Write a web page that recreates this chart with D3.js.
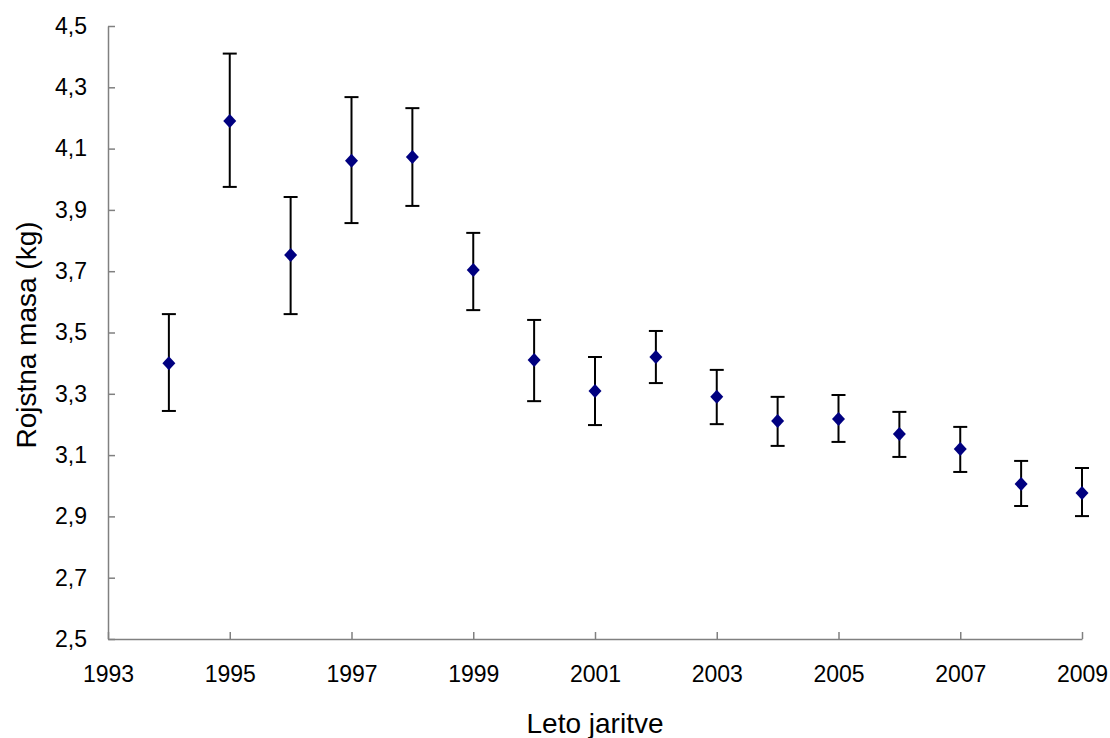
<!DOCTYPE html>
<html lang="sl">
<head>
<meta charset="UTF-8"/>
<title>Rojstna masa</title>
<script src="https://d3js.org/d3.v7.min.js"></script>
<style>
	body { margin: 0; background: #fff; }
	text { font-family: "Liberation Sans", Arial, sans-serif; }
</style>
</head>
<body>
<script>
var w = 1110;
var h = 738;

var years = [1994, 1995, 1996, 1997, 1998, 1999, 2000, 2001, 2002, 2003, 2004, 2005, 2006, 2007, 2008, 2009];
var means = [3.40, 4.19, 3.753, 4.06, 4.073, 3.704, 3.41, 3.309, 3.42, 3.29, 3.211, 3.218, 3.169, 3.12, 3.006, 2.976];
var upper = [3.56, 4.41, 3.942, 4.268, 4.232, 3.825, 3.541, 3.42, 3.505, 3.378, 3.29, 3.296, 3.241, 3.192, 3.081, 3.058];
var lower = [3.244, 3.975, 3.56, 3.857, 3.913, 3.573, 3.276, 3.198, 3.335, 3.201, 3.13, 3.143, 3.094, 3.045, 2.934, 2.901];
var xTicks = [1993, 1995, 1997, 1999, 2001, 2003, 2005, 2007, 2009];
var yTicks = [2.5, 2.7, 2.9, 3.1, 3.3, 3.5, 3.7, 3.9, 4.1, 4.3, 4.5];

var padL = 108, padR = 1082, padT = 26, padB = 639;

var xScale = d3.scaleLinear().domain([1993, 2009]).range([padL, padR]);
var yScale = d3.scaleLinear().domain([2.5, 4.5]).range([padB, padT]);

var svg = d3.select("body").append("svg")
	.attr("width", w)
	.attr("height", h);

// axes, ticks pointing inward
var xAxis = d3.axisBottom(xScale)
	.tickValues(xTicks)
	.tickSizeInner(-7)
	.tickSizeOuter(0)
	.tickPadding(27)
	.tickFormat(d3.format("d"));
var gx = svg.append("g")
	.attr("transform", "translate(0," + padB + ")")
	.call(xAxis);

var yAxis = d3.axisLeft(yScale)
	.tickValues(yTicks)
	.tickSizeInner(-7)
	.tickSizeOuter(0)
	.tickPadding(21)
	.tickFormat(function (d) { return d.toFixed(1).replace(".", ","); });
var gy = svg.append("g")
	.attr("transform", "translate(" + padL + ",0)")
	.call(yAxis);

[gx, gy].forEach(function (g) {
	g.select(".domain").attr("stroke", "#808080").attr("stroke-width", 1.5);
	g.selectAll(".tick line").attr("stroke", "#808080").attr("stroke-width", 1.5);
	g.selectAll(".tick text")
		.attr("fill", "#000")
		.attr("font-size", "23px")
		.attr("font-family", "Liberation Sans, Arial, sans-serif");
});

// error bars
var bars = svg.selectAll(".err")
	.data(years)
	.enter()
	.append("g")
	.attr("class", "err");

bars.append("line")
	.attr("x1", function (d) { return xScale(d); })
	.attr("x2", function (d) { return xScale(d); })
	.attr("y1", function (d, i) { return yScale(upper[i]); })
	.attr("y2", function (d, i) { return yScale(lower[i]); })
	.attr("stroke", "#000")
	.attr("stroke-width", 2);

bars.append("line")
	.attr("x1", function (d) { return xScale(d) - 7; })
	.attr("x2", function (d) { return xScale(d) + 7; })
	.attr("y1", function (d, i) { return yScale(upper[i]); })
	.attr("y2", function (d, i) { return yScale(upper[i]); })
	.attr("stroke", "#000")
	.attr("stroke-width", 2);

bars.append("line")
	.attr("x1", function (d) { return xScale(d) - 7; })
	.attr("x2", function (d) { return xScale(d) + 7; })
	.attr("y1", function (d, i) { return yScale(lower[i]); })
	.attr("y2", function (d, i) { return yScale(lower[i]); })
	.attr("stroke", "#000")
	.attr("stroke-width", 2);

// diamond markers
svg.selectAll(".pt")
	.data(years)
	.enter()
	.append("path")
	.attr("class", "pt")
	.attr("d", "M0,-7L6.5,0L0,7L-6.5,0Z")
	.attr("transform", function (d, i) {
		return "translate(" + xScale(d) + "," + yScale(means[i]) + ")";
	})
	.attr("fill", "#000080");

// axis titles
svg.append("text")
	.attr("x", 595)
	.attr("y", 733)
	.attr("text-anchor", "middle")
	.attr("font-size", "28px")
	.text("Leto jaritve");

svg.append("text")
	.attr("transform", "translate(36,335) rotate(-90)")
	.attr("text-anchor", "middle")
	.attr("font-size", "28px")
	.text("Rojstna masa (kg)");
</script>
</body>
</html>
